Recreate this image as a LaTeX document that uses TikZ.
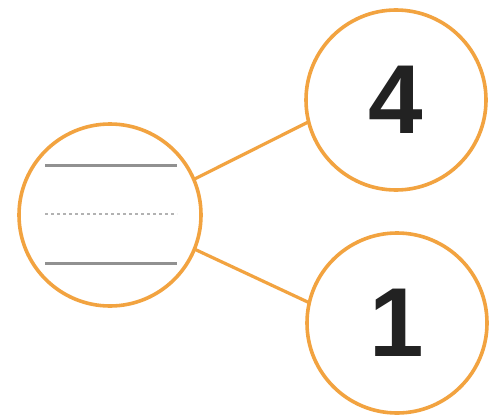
\documentclass[tikz,border=0pt]{standalone}
\usepackage{fontspec}
\setmainfont{Liberation Sans}
\begin{document}
\begin{tikzpicture}[x=1pt,y=1pt]
\definecolor{fillColor}{RGB}{255,255,255}
\definecolor{ringColor}{RGB}{242,163,64}
\definecolor{barColor}{RGB}{145,145,145}
\definecolor{textColor}{RGB}{34,34,34}
\tikzset{
  ring/.style={circle,draw=ringColor,line width=3.6pt,fill=fillColor,inner sep=0pt,outer sep=0pt,minimum size=#1},
  digit/.style={text=textColor,font=\fontsize{98}{98}\selectfont\bfseries},
  link/.style={draw=ringColor,line width=3.2pt}
}
\path[use as bounding box,fill=fillColor] (0,0) rectangle (494,416);

\node[ring=182] (frac) at (110,201) {};
\node[ring=180,digit] (top) at (396,316) {4};
\node[ring=180,digit] (bottom) at (397,93) {1};

\path[link] (frac.23) -- (top.194);
\path[link] (frac.-22) -- (bottom.167);

% bars inside the fraction circle
\path[draw=barColor,line width=3pt] (45,251) -- (177,251);
\path[draw=barColor!70,line width=2.6pt,dash pattern=on 3pt off 3pt] (45,202) -- (177,202);
\path[draw=barColor,line width=3pt] (45,153) -- (177,153);
\end{tikzpicture}
\end{document}
